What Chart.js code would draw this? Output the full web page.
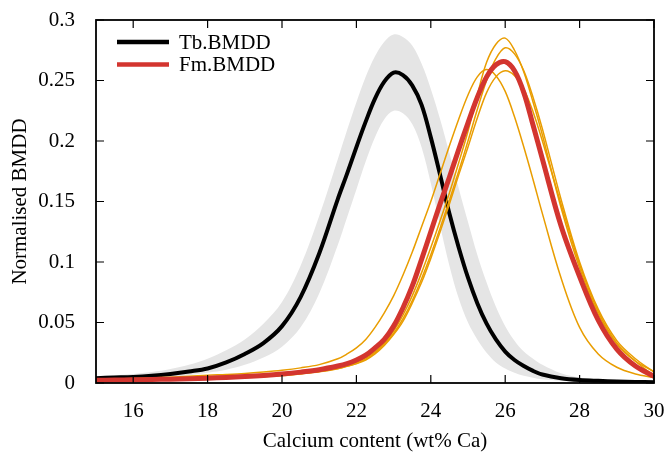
<!DOCTYPE html>
<html>
<head>
<meta charset="utf-8">
<script src="https://cdn.jsdelivr.net/npm/chart.js@4"></script>
<style>
  html, body { margin: 0; padding: 0; background: #fff; }
  canvas { display: block; }
</style>
</head>
<body>
<canvas id="bmddChart" width="669" height="454"></canvas>
<script>
// calcium content grid (wt% Ca), denser around the peaks
const calcium = [
  15, 15.5, 16, 16.5, 17, 17.5, 18, 18.5, 19, 19.5, 20, 20.5, 21, 21.5,
  21.75, 22, 22.25, 22.5, 22.75, 23, 23.25, 23.5, 23.75, 24, 24.25, 24.5, 24.75, 25, 25.25, 25.5, 25.75, 26, 26.25, 26.5, 26.75, 27,
  27.5, 28, 28.5, 29, 29.5, 30,
];

// Tb.BMDD mean and its grey envelope
const tbMean = [
  0.004, 0.0045, 0.005, 0.006, 0.0075, 0.0095, 0.012, 0.017, 0.024, 0.033, 0.047, 0.071, 0.107, 0.152,
  0.173, 0.195, 0.216, 0.235, 0.249, 0.2565, 0.2545, 0.246, 0.23, 0.203, 0.172, 0.14, 0.112, 0.087, 0.066, 0.049, 0.036, 0.026, 0.019, 0.014, 0.01, 0.007,
  0.004, 0.0025, 0.0018, 0.0013, 0.0009, 0.0006,
];
const tbUpper = [
  0.0055, 0.0065, 0.0075, 0.009, 0.0115, 0.015, 0.02, 0.027, 0.036, 0.049, 0.067, 0.097, 0.138, 0.185,
  0.209, 0.232, 0.253, 0.27, 0.282, 0.288, 0.286, 0.279, 0.264, 0.243, 0.218, 0.19, 0.161, 0.133, 0.106, 0.083, 0.063, 0.047, 0.035, 0.026, 0.02, 0.015,
  0.008, 0.0045, 0.003, 0.002, 0.0014, 0.001,
];
const tbLower = [
  0.0025, 0.003, 0.0035, 0.004, 0.005, 0.0065, 0.0085, 0.011, 0.015, 0.021, 0.03, 0.046, 0.074, 0.114,
  0.137, 0.16, 0.183, 0.203, 0.218, 0.225, 0.223, 0.214, 0.195, 0.165, 0.13, 0.097, 0.07, 0.05, 0.036, 0.025, 0.017, 0.012, 0.0085, 0.006, 0.0043, 0.003,
  0.0018, 0.0012, 0.0009, 0.0006, 0.0004, 0.0003,
];

// Fm.BMDD mean and the four single femurs
const fmMean = [
  0.0022, 0.0024, 0.0026, 0.0029, 0.0032, 0.0036, 0.004, 0.0046, 0.0053, 0.0062, 0.0074, 0.009, 0.011, 0.014,
  0.016, 0.019, 0.023, 0.029, 0.036, 0.047, 0.062, 0.08, 0.102, 0.125, 0.148, 0.17, 0.193, 0.215, 0.236, 0.253, 0.263, 0.2655, 0.258, 0.24, 0.213, 0.185,
  0.13, 0.088, 0.052, 0.028, 0.014, 0.0055,
];
const fmSample1 = [
  0.003, 0.0033, 0.0037, 0.0042, 0.0048, 0.0055, 0.0064, 0.007, 0.0078, 0.009, 0.0105, 0.0125, 0.0152, 0.02,
  0.024, 0.029, 0.036, 0.046, 0.058, 0.072, 0.089, 0.108, 0.129, 0.15, 0.173, 0.196, 0.218, 0.238, 0.253, 0.259, 0.254, 0.241, 0.22, 0.195, 0.168, 0.14,
  0.087, 0.046, 0.024, 0.013, 0.0075, 0.0045,
];
const fmSample2 = [
  0.0018, 0.002, 0.0022, 0.0025, 0.0028, 0.0032, 0.0036, 0.0041, 0.0047, 0.0055, 0.0065, 0.008, 0.0098, 0.0125,
  0.0145, 0.017, 0.021, 0.026, 0.033, 0.043, 0.056, 0.072, 0.091, 0.112, 0.134, 0.157, 0.182, 0.208, 0.238, 0.265, 0.28, 0.285, 0.275, 0.257, 0.232, 0.205,
  0.145, 0.095, 0.057, 0.032, 0.018, 0.0095,
];
const fmSample3 = [
  0.0017, 0.0019, 0.0021, 0.0024, 0.0027, 0.0031, 0.0035, 0.004, 0.0046, 0.0054, 0.0063, 0.0077, 0.0094, 0.012,
  0.014, 0.016, 0.02, 0.025, 0.032, 0.041, 0.053, 0.068, 0.086, 0.106, 0.128, 0.151, 0.175, 0.2, 0.226, 0.25, 0.268, 0.277, 0.272, 0.258, 0.236, 0.21,
  0.152, 0.1, 0.061, 0.035, 0.02, 0.009,
];
const fmSample4 = [
  0.0016, 0.0018, 0.002, 0.0023, 0.0026, 0.003, 0.0034, 0.0039, 0.0045, 0.0052, 0.0061, 0.0075, 0.0092, 0.0118,
  0.0138, 0.016, 0.019, 0.024, 0.031, 0.04, 0.051, 0.066, 0.083, 0.103, 0.125, 0.148, 0.172, 0.195, 0.219, 0.24, 0.253, 0.258, 0.254, 0.243, 0.224, 0.2,
  0.148, 0.098, 0.059, 0.033, 0.018, 0.006,
];

const seriesNames = ['Tb.BMDD', 'Fm.BMDD'];
const xTickValues = [16, 18, 20, 22, 24, 26, 28, 30];
const yTickValues = [0, 0.05, 0.1, 0.15, 0.2, 0.25, 0.3];

const FONT = "'Liberation Serif', 'DejaVu Serif', serif";
const BLACK = '#000000';
const RED = '#d3352f';
const ORANGE = '#e99d00';
const GREY = '#e5e5e5';

function points(values) {
  return values.map((v, i) => ({ x: calcium[i], y: v }));
}

function lineSet(values, color, width, extra) {
  return Object.assign(
    {
      data: points(values),
      borderColor: color,
      backgroundColor: color,
      borderWidth: width,
      pointRadius: 0,
      tension: 0.35,
      fill: false,
    },
    extra || {}
  );
}

// inward ticks on all four sides plus the closed frame
const frameTicks = {
  id: 'frameTicks',
  afterDatasetsDraw(chart) {
    const { ctx, chartArea: a, scales } = chart;
    const len = 8;
    ctx.save();
    ctx.strokeStyle = BLACK;
    ctx.lineWidth = 1.2;
    ctx.beginPath();
    scales.x.ticks.forEach((t) => {
      const px = scales.x.getPixelForValue(t.value);
      ctx.moveTo(px, a.bottom);
      ctx.lineTo(px, a.bottom - len);
      ctx.moveTo(px, a.top);
      ctx.lineTo(px, a.top + len);
    });
    scales.y.ticks.forEach((t) => {
      const py = scales.y.getPixelForValue(t.value);
      ctx.moveTo(a.left, py);
      ctx.lineTo(a.left + len, py);
      ctx.moveTo(a.right, py);
      ctx.lineTo(a.right - len, py);
    });
    ctx.stroke();
    ctx.lineWidth = 1.8;
    ctx.strokeRect(a.left, a.top, a.right - a.left, a.bottom - a.top);
    ctx.restore();
  },
};

// key in the upper left corner of the plot
const insideLegend = {
  id: 'insideLegend',
  afterDraw(chart) {
    const { ctx, chartArea: a } = chart;
    const colors = [BLACK, RED];
    ctx.save();
    ctx.font = '21px ' + FONT;
    ctx.textBaseline = 'middle';
    ctx.textAlign = 'left';
    seriesNames.forEach((name, i) => {
      const y = a.top + 22 + i * 22.5;
      ctx.strokeStyle = colors[i];
      ctx.lineWidth = 4.5;
      ctx.beginPath();
      ctx.moveTo(a.left + 21, y);
      ctx.lineTo(a.left + 73, y);
      ctx.stroke();
      ctx.fillStyle = BLACK;
      ctx.fillText(name, a.left + 83, y + 1);
    });
    ctx.restore();
  },
};

function drawChart() {
  const ctx = document.getElementById('bmddChart').getContext('2d');
  new Chart(ctx, {
    type: 'line',
    data: {
      datasets: [
        lineSet(fmMean, RED, 5),
        lineSet(fmSample1, ORANGE, 1.5),
        lineSet(fmSample2, ORANGE, 1.5),
        lineSet(fmSample3, ORANGE, 1.5),
        lineSet(fmSample4, ORANGE, 1.5),
        lineSet(tbMean, BLACK, 4),
        lineSet(tbUpper, GREY, 0, { fill: '+1', backgroundColor: GREY }),
        lineSet(tbLower, GREY, 0),
      ],
    },
    options: {
      responsive: false,
      devicePixelRatio: 1,
      animation: false,
      layout: { padding: { top: 20, right: 15, left: 0, bottom: 0 } },
      plugins: {
        legend: { display: false },
        tooltip: { enabled: false },
      },
      scales: {
        x: {
          type: 'linear',
          min: 15,
          max: 30,
          grid: { display: false },
          border: { display: false },
          afterBuildTicks: (scale) => {
            scale.ticks = xTickValues.map((v) => ({ value: v }));
          },
          afterFit: (scale) => {
            scale.height = 71;
            scale.paddingLeft = 0;
            scale.paddingRight = 0;
          },
          ticks: {
            color: BLACK,
            padding: 8,
            maxRotation: 0,
            font: { family: FONT, size: 21 },
            callback: (v) => String(v),
          },
          title: {
            display: true,
            text: 'Calcium content (wt% Ca)',
            color: BLACK,
            font: { family: FONT, size: 21 },
            padding: { top: 0, bottom: 0 },
          },
        },
        y: {
          type: 'linear',
          min: 0,
          max: 0.3,
          grid: { display: false },
          border: { display: false },
          afterBuildTicks: (scale) => {
            scale.ticks = yTickValues.map((v) => ({ value: v }));
          },
          afterFit: (scale) => {
            scale.width = 96;
            scale.paddingTop = 0;
            scale.paddingBottom = 0;
          },
          ticks: {
            color: BLACK,
            padding: 13,
            font: { family: FONT, size: 21 },
            callback: (v) => String(+v.toFixed(2)),
          },
          title: {
            display: true,
            text: 'Normalised BMDD',
            color: BLACK,
            font: { family: FONT, size: 21 },
            padding: { top: 8, bottom: 0 },
          },
        },
      },
    },
    plugins: [frameTicks, insideLegend],
  });
}

document.addEventListener('DOMContentLoaded', drawChart);
</script>
</body>
</html>
